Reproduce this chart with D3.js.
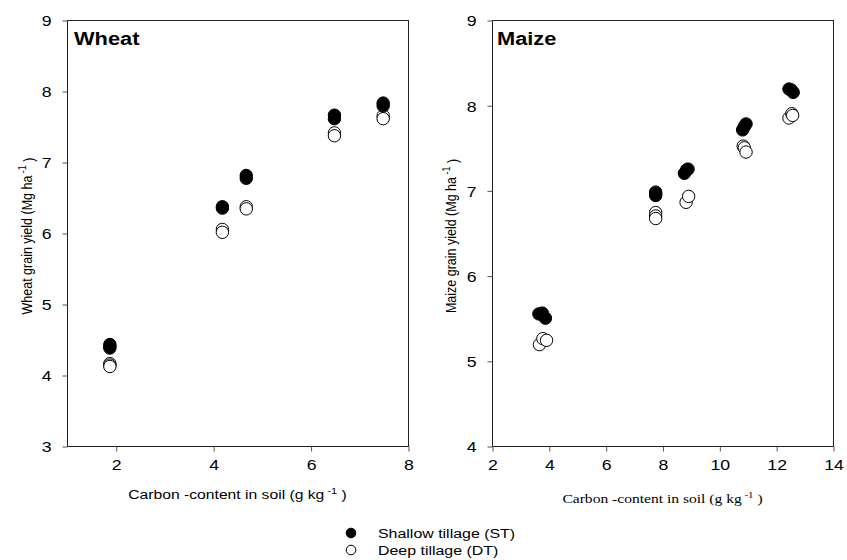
<!DOCTYPE html>
<html>
<head>
<meta charset="utf-8">
<script src="https://cdn.jsdelivr.net/npm/d3@7"></script>
<style>
  html, body { margin: 0; padding: 0; background: #fff; }
  svg { display: block; }
  text { font-family: "Liberation Sans", Arial, sans-serif; fill: #000; }
</style>
</head>
<body>
<svg id="chart" width="847" height="560"></svg>
<script>
// ---- Data ----
const wheatST = [[1.88,4.43],[1.88,4.40],[1.88,4.38],[4.19,6.37],[4.19,6.35],[4.68,6.81],[4.68,6.77],[6.49,7.66],[6.49,7.61],[7.49,7.83],[7.49,7.79]];
const wheatDT = [[1.88,4.16],[1.88,4.14],[1.88,4.12],[4.19,6.05],[4.19,6.01],[4.68,6.37],[4.68,6.34],[6.49,7.41],[6.49,7.37],[7.49,7.65],[7.49,7.61]];
const maizeST = [[3.65,5.55],[3.77,5.56],[3.88,5.50],[7.76,6.98],[7.76,6.96],[7.76,6.94],[8.77,7.20],[8.85,7.24],[8.90,7.25],[10.82,7.71],[10.88,7.75],[10.94,7.78],[12.45,8.19],[12.53,8.18],[12.60,8.15]];
const maizeDT = [[3.67,5.19],[3.79,5.26],[3.92,5.24],[7.76,6.74],[7.76,6.70],[7.76,6.67],[8.83,6.86],[8.92,6.93],[10.84,7.52],[10.88,7.50],[10.94,7.45],[12.45,7.85],[12.55,7.90],[12.58,7.88]];
const wheatXTicks = [2,4,6,8];
const wheatYTicks = [3,4,5,6,7,8,9];
const maizeXTicks = [2,4,6,8,10,12,14];
const maizeYTicks = [4,5,6,7,8,9];
const legendLabels = ["Shallow tillage (ST)", "Deep tillage (DT)"];

const SX = 1.18; // horizontal stretch of the reference text
const svg = d3.select("#chart");

function panel(opts) {
  const x = d3.scaleLinear().domain(opts.xDomain).range([opts.left, opts.right]);
  const y = d3.scaleLinear().domain(opts.yDomain).range([opts.bottom, opts.top]);
  const g = svg.append("g");

  // frame
  g.append("rect")
    .attr("x", opts.left + 0.5).attr("y", opts.top + 0.5)
    .attr("width", opts.right - opts.left).attr("height", opts.bottom - opts.top)
    .attr("fill", "none").attr("stroke", "#222").attr("stroke-width", 1);

  // y axis
  const ya = g.append("g").attr("transform", `translate(${opts.left + 0.5},0.5)`)
    .call(d3.axisLeft(y).tickValues(opts.yTicks).tickSize(5).tickFormat(d3.format("d")));
  ya.select(".domain").remove();
  ya.selectAll(".tick line").attr("stroke", "#555");
  ya.selectAll(".tick text")
    .attr("x", -opts.yLabelGap / SX).attr("dy", "0.36em")
    .attr("transform", `scale(${SX},1)`)
    .style("font-size", "15px").style("font-family", "'Liberation Sans', Arial, sans-serif");

  // x axis
  const xa = g.append("g").attr("transform", `translate(0.5,${opts.bottom + 0.5})`)
    .call(d3.axisBottom(x).tickValues(opts.xTicks).tickSize(5).tickFormat(d3.format("d")));
  xa.select(".domain").remove();
  xa.selectAll(".tick line").attr("stroke", "#555");
  xa.selectAll(".tick text")
    .attr("x", 0).attr("y", 18).attr("dy", "0.36em")
    .attr("transform", `scale(${SX},1)`)
    .style("font-size", "15px").style("font-family", "'Liberation Sans', Arial, sans-serif");

  // points
  g.append("g").selectAll("circle").data(opts.dt).join("circle")
    .attr("cx", d => x(d[0])).attr("cy", d => y(d[1])).attr("r", 6.2)
    .attr("fill", "#fff").attr("stroke", "#000").attr("stroke-width", 1);
  g.append("g").selectAll("circle").data(opts.st).join("circle")
    .attr("cx", d => x(d[0])).attr("cy", d => y(d[1])).attr("r", 6.2)
    .attr("fill", "#000").attr("stroke", "#000").attr("stroke-width", 1);

  // panel title
  g.append("text")
    .attr("transform", `translate(${opts.left + opts.titleDx},${opts.top + 25}) scale(${SX},1)`)
    .style("font-size", "18.5px").style("font-weight", "bold")
    .text(opts.title);

  // y-axis title
  const yt = g.append("text")
    .attr("transform", `translate(${opts.yTitleX},${(opts.top + opts.bottom) / 2 + 3}) scale(${SX},1) rotate(-90)`)
    .attr("text-anchor", "middle")
    .style("font-size", "12.5px");
  yt.append("tspan").text(opts.yTitle + " (Mg ha");
  yt.append("tspan").attr("dy", "-0.55em").style("font-size", "9px").text(" -1");
  yt.append("tspan").attr("dy", "0.55em").text(" )");

  // x-axis title
  const xt = g.append("text")
    .attr("transform", `translate(${(opts.left + opts.right) / 2},${opts.xTitleY}) scale(${SX},1)`)
    .attr("text-anchor", "middle")
    .style("font-size", opts.xTitleSize)
    .style("font-family", opts.xTitleFont);
  xt.append("tspan").text("Carbon -content in soil (g kg");
  xt.append("tspan").attr("dy", "-0.55em").style("font-size", "0.7em").text(" -1");
  xt.append("tspan").attr("dy", "0.4em").text(" )");
}

panel({
  left: 67, right: 408, top: 20, bottom: 446,
  xDomain: [1, 8], yDomain: [3, 9],
  xTicks: wheatXTicks, yTicks: wheatYTicks,
  st: wheatST, dt: wheatDT,
  title: "Wheat", titleDx: 7, yTitle: "Wheat grain yield",
  yTitleX: 32, yLabelGap: 16,
  xTitleY: 499, xTitleSize: "13.3px", xTitleFont: "'Liberation Sans', Arial, sans-serif"
});

panel({
  left: 492, right: 833, top: 20, bottom: 446,
  xDomain: [2, 14], yDomain: [4, 9],
  xTicks: maizeXTicks, yTicks: maizeYTicks,
  st: maizeST, dt: maizeDT,
  title: "Maize", titleDx: 5, yTitle: "Maize grain yield",
  yTitleX: 456, yLabelGap: 16,
  xTitleY: 503, xTitleSize: "13.2px", xTitleFont: "'Liberation Serif', 'Times New Roman', serif"
});

// legend
const leg = svg.append("g");
const legRows = leg.selectAll("g").data(legendLabels).join("g")
  .attr("transform", (d, i) => `translate(351,${533 + i * 17})`);
legRows.append("circle").attr("r", 4.8)
  .attr("fill", (d, i) => i === 0 ? "#000" : "#fff")
  .attr("stroke", "#000").attr("stroke-width", 1);
legRows.append("text")
  .attr("transform", `translate(27,0) scale(${SX},1)`)
  .attr("dy", "0.36em")
  .style("font-size", "13.5px")
  .text(d => d);
</script>
</body>
</html>
